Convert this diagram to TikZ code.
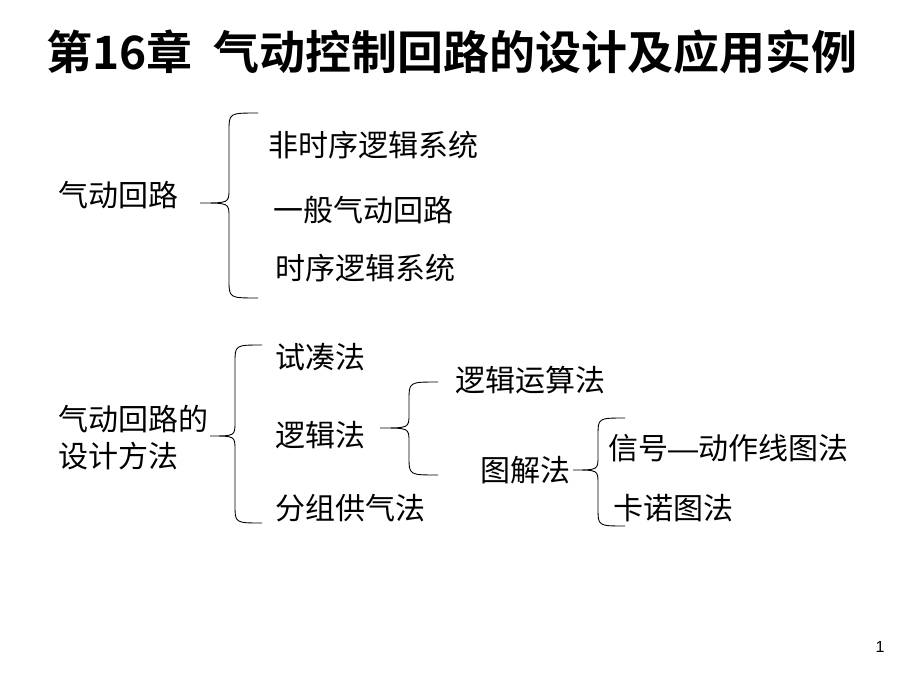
\documentclass[tikz,border=0pt]{standalone}
\usepackage{fontspec}
\setmainfont{Liberation Sans}
\newfontfamily\cjk{Noto Sans CJK SC}
\newfontfamily\cjkb{Noto Sans CJK SC Bold}
\newfontfamily\latinsans{Liberation Sans}
\newcommand\bracepath[6]{%
  \draw[bracestyle] (#1,#4) .. controls (#2,#4) .. (#2,#4+18)
    -- (#2,#5-14) .. controls (#2,#5) .. (#3,#5)
    .. controls (#2,#5) .. (#2,#5+14)
    -- (#2,#6-18) .. controls (#2,#6) .. (#1,#6);}
\begin{document}
\begin{tikzpicture}[x=1pt,y=-1pt,
  lbl/.style={anchor=west,inner sep=0pt,font=\fontsize{30}{37}\selectfont\cjk},
  ttl/.style={inner sep=0pt,font=\fontsize{46}{50}\selectfont\cjkb},
  bracestyle/.style={draw=black,line width=0.9pt}]
\useasboundingbox (0,0) rectangle (920,690);
\node[ttl] (title) at (452,52) {第16章\ \ 气动控制回路的设计及应用实例};
% first group
\node[lbl] (qdhl) at (58,195) {气动回路};
\node[lbl] (fsx) at (268,145) {非时序逻辑系统};
\node[lbl] (ybqd) at (273,210) {一般气动回路};
\node[lbl] (sx) at (275,268) {时序逻辑系统};
\bracepath{258}{229}{200}{113}{203}{298}
% second group
\node[lbl,align=left] (sjff) at (58,438) {气动回路的\\设计方法};
\node[lbl] (scf) at (275,357) {试凑法};
\node[lbl] (ljf) at (275,435) {逻辑法};
\node[lbl] (fzgq) at (275,508) {分组供气法};
\bracepath{262}{235}{210}{345}{436}{523}
\node[lbl] (ljys) at (455,380) {逻辑运算法};
\node[lbl] (tjf) at (480,470) {图解法};
\bracepath{438}{409}{380}{382}{428}{475}
\node[lbl] (xh) at (608,448) {信号{\latinsans —}动作线图法};
\node[lbl] (knt) at (613,508) {卡诺图法};
\bracepath{625}{598}{573}{418}{470}{526}
\node[inner sep=0pt,font=\fontsize{16}{18}\selectfont] (pg) at (880,647) {1};
\end{tikzpicture}
\end{document}
